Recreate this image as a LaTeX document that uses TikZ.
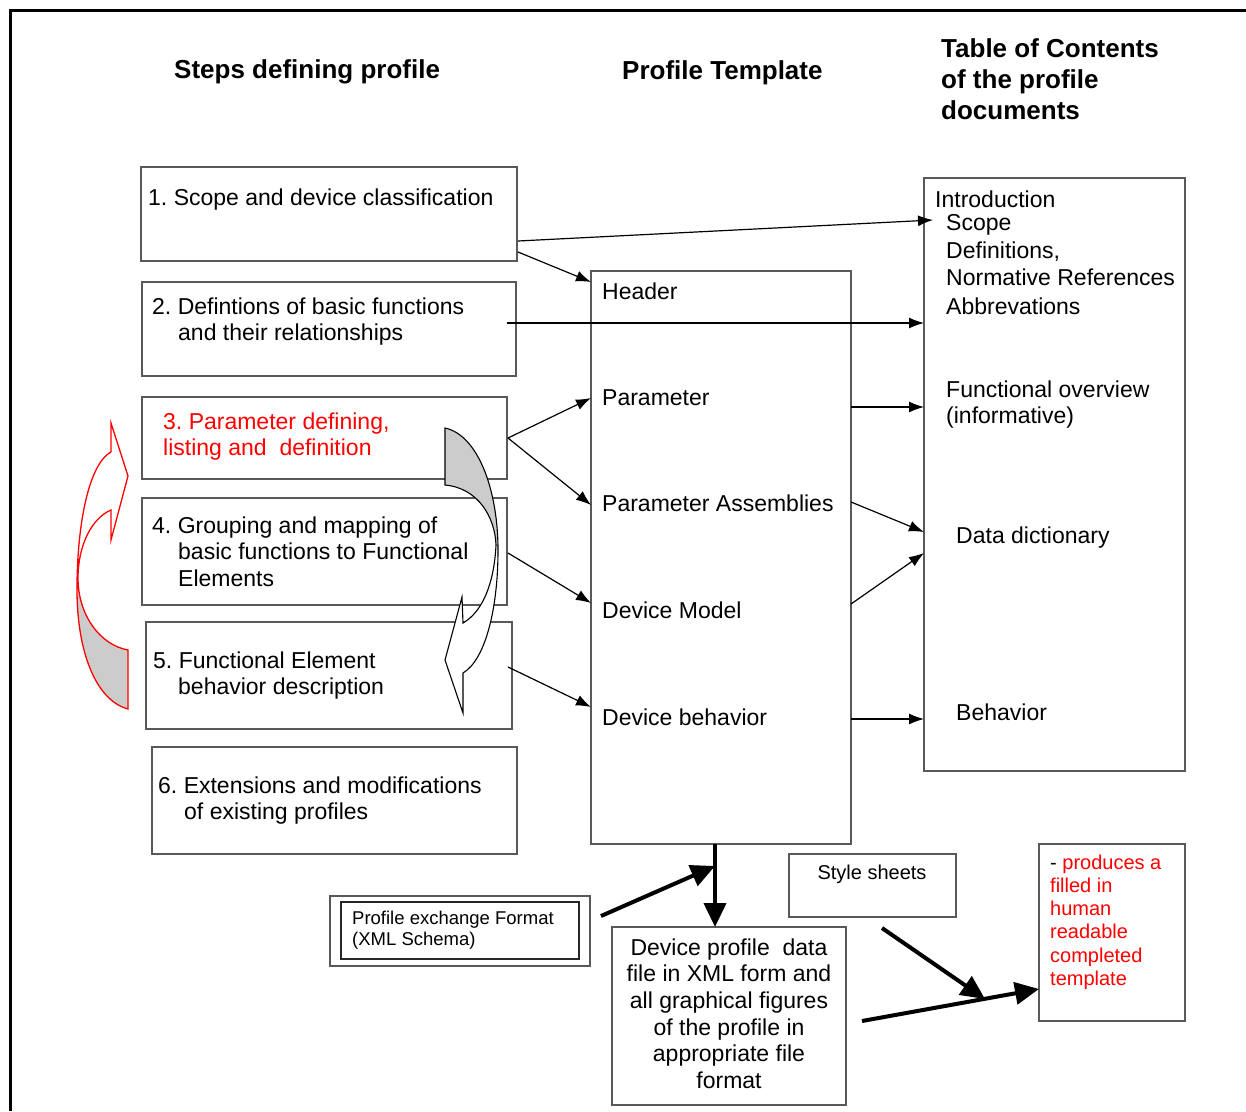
\documentclass[tikz,border=0pt]{standalone}
\usepackage{fontspec}
\setmainfont{Liberation Sans}
\usetikzlibrary{arrows.meta}
\frenchspacing
\begin{document}
\begin{tikzpicture}[x=1pt,y=-1pt,
  box/.style={draw=black!65, line width=1.3pt, anchor=north west, inner sep=0pt, outer sep=0pt},
  txt/.style={inner sep=0pt, anchor=base west, font=\fontsize{23}{27}\selectfont},
  ctxt/.style={txt, anchor=base},
  head/.style={inner sep=0pt, anchor=base west, font=\fontsize{26}{31}\selectfont\bfseries},
  small/.style={inner sep=0pt, anchor=base west, font=\fontsize{18.5}{22}\selectfont},
  mid/.style={inner sep=0pt, anchor=base west, font=\fontsize{20}{24}\selectfont},
  arr/.style={line width=1.2pt, -{Latex[length=15pt,width=11pt]}},
  bigarr/.style={line width=4pt, -{Triangle[length=24pt,width=22pt]}},
]
\useasboundingbox (0,0) rectangle (1246,1111);
% outer frame
\draw[line width=3pt] (10,1111) -- (10,10) -- (1246,10);

% column headings
\node[head] (h1) at (174,78) {Steps defining profile};
\node[head] (h2) at (622,79) {Profile Template};
\node[head] (h3a) at (941,57) {Table of Contents};
\node[head] (h3b) at (941,88) {of the profile};
\node[head] (h3c) at (941,119) {documents};

% step boxes
\node[box, minimum width=376pt, minimum height=94pt] (b1) at (141,167) {};
\node[box, minimum width=374pt, minimum height=94pt] (b2) at (142,282) {};
\node[box, minimum width=365pt, minimum height=82pt] (b3) at (142,397) {};
\node[box, minimum width=365pt, minimum height=107pt] (b4) at (142,498) {};
\node[box, minimum width=366pt, minimum height=107pt] (b5) at (146,622) {};
\node[box, minimum width=365pt, minimum height=107pt] (b6) at (152,747) {};

\node[txt] (t1) at (148,205) {1. Scope and device classification};
\node[txt] (t2a) at (152,314) {2. Defintions of basic functions};
\node[txt] (t2b) at (178,340) {and their relationships};
\node[txt, text=red] (t3a) at (163,429) {3. Parameter defining,};
\node[txt, text=red] (t3b) at (163,455) {listing and\ \ definition};
\node[txt] (t4a) at (152,533) {4. Grouping and mapping of};
\node[txt] (t4b) at (178,559) {basic functions to Functional};
\node[txt] (t4c) at (178,586) {Elements};
\node[txt] (t5a) at (153,668) {5. Functional Element};
\node[txt] (t5b) at (178,694) {behavior description};
\node[txt] (t6a) at (158,793) {6. Extensions and modifications};
\node[txt] (t6b) at (184,819) {of existing profiles};

% profile template
\node[box, minimum width=260pt, minimum height=573pt] (tmpl) at (591,271) {};
\node[txt] (p1) at (602,299) {Header};
\node[txt] (p2) at (602,405) {Parameter};
\node[txt] (p3) at (602,511) {Parameter Assemblies};
\node[txt] (p4) at (602,618) {Device Model};
\node[txt] (p5) at (602,725) {Device behavior};

% table of contents
\node[box, minimum width=261pt, minimum height=593pt] (toc) at (924,178) {};
\node[txt] (c1) at (935,207) {Introduction};
\node[txt] (c2) at (946,230) {Scope};
\node[txt] (c3) at (946,258) {Definitions,};
\node[txt] (c4) at (946,285) {Normative References};
\node[txt] (c5) at (946,314) {Abbrevations};
\node[txt] (c6) at (946,397) {Functional overview};
\node[txt] (c7) at (946,423) {(informative)};
\node[txt] (c8) at (956,543) {Data dictionary};
\node[txt] (c9) at (956,720) {Behavior};

% lower boxes
\node[box, minimum width=260pt, minimum height=70pt] (pefo) at (330,896) {};
\node[box, draw=black!85, minimum width=238pt, minimum height=57pt] (pefi) at (341,902) {};
\node[small] (pe1) at (352,924.5) {Profile exchange Format};
\node[small] (pe2) at (352,945.5) {(XML Schema)};

\node[box, minimum width=167pt, minimum height=63pt] (sty) at (789,854) {};
\node[mid, anchor=base] (styt) at (872,879) {Style sheets};

\node[box, minimum width=234pt, minimum height=178pt] (dev) at (612,927) {};
\node[ctxt] (d1) at (729,955) {Device profile\ \ data};
\node[ctxt] (d2) at (729,981) {file in XML form and};
\node[ctxt] (d3) at (729,1008) {all graphical figures};
\node[ctxt] (d4) at (729,1035) {of the profile in};
\node[ctxt] (d5) at (729,1061) {appropriate file};
\node[ctxt] (d6) at (729,1088) {format};

\node[box, minimum width=146pt, minimum height=177pt] (out) at (1039,844) {};
\node[mid] (o1) at (1050,869) {- \textcolor{red}{produces a}};
\node[mid, text=red] (o2) at (1050,892) {filled in};
\node[mid, text=red] (o3) at (1050,915) {human};
\node[mid, text=red] (o4) at (1050,938) {readable};
\node[mid, text=red] (o5) at (1050,962) {completed};
\node[mid, text=red] (o6) at (1050,985) {template};

% connector end points
\coordinate (s1a) at (518,241);
\coordinate (s1b) at (518,252);
\coordinate (s2) at (507,323);
\coordinate (s3) at (508,438);
\coordinate (s4) at (508,553);
\coordinate (s5) at (508,667);
\coordinate (e1a) at (933,220);
\coordinate (e1b) at (591,282);
\coordinate (e2) at (924,323);
\coordinate (e3a) at (591,398);
\coordinate (e3b) at (591,505);
\coordinate (e4) at (591,603);
\coordinate (e5) at (591,707);
\coordinate (q1) at (851,407);
\coordinate (q2) at (851,502);
\coordinate (q3) at (851,604);
\coordinate (q4) at (851,719);
\coordinate (r1) at (924,407);
\coordinate (r2) at (924,532);
\coordinate (r3) at (924,553);
\coordinate (r4) at (924,719);

\draw[arr] (s1a) -- (e1a);
\draw[arr] (s1b) -- (e1b);
\draw[arr] (s2) -- (e2);
\draw[arr] (s3) -- (e3a);
\draw[arr] (s3) -- (e3b);
\draw[arr] (s4) -- (e4);
\draw[arr] (s5) -- (e5);
\draw[arr] (q1) -- (r1);
\draw[arr] (q2) -- (r2);
\draw[arr] (q3) -- (r3);
\draw[arr] (q4) -- (r4);

% thick flow arrows
\coordinate (tb) at (715,844);
\coordinate (tin) at (715,866);
\coordinate (pf) at (601,916);
\coordinate (ss) at (882,928);
\coordinate (sm) at (985,999);
\coordinate (dv) at (862,1021);
\coordinate (oi) at (1039,989);
\draw[bigarr] (tb) -- (tb |- dev.north);
\draw[bigarr] (pf) -- (tin);
\draw[bigarr] (ss) -- (sm);
\draw[bigarr] (dv) -- (oi);

% red curved arrow (steps loop back)
\fill[black!20] (128,650) .. controls (100,645) and (78,615) .. (78,578)
  -- (77,590) .. controls (77,650) and (95,700) .. (128,709) -- cycle;
\draw[red, line width=1.3pt, line join=miter]
  (128,709) .. controls (95,700) and (77,650) .. (77,590)
  .. controls (77,520) and (90,463) .. (111,452)
  -- (111,423) -- (128,476) -- (111,540) -- (111,510)
  .. controls (92,518) and (78,545) .. (78,578)
  .. controls (78,615) and (100,645) .. (128,650) -- cycle;

% grey curved arrow (step 3 to step 5)
\fill[white] (445,428) .. controls (478,435) and (498,490) .. (498,550)
  .. controls (498,610) and (485,660) .. (463,673)
  -- (463,713) -- (445,660) -- (462,597) -- (463,623)
  .. controls (482,612) and (494,585) .. (496,545)
  .. controls (495,517) and (478,488) .. (445,485) -- cycle;
\fill[black!20] (445,428) .. controls (478,435) and (498,490) .. (498,550)
  -- (496,545) .. controls (495,517) and (478,488) .. (445,485) -- cycle;
\draw[line width=1.1pt, line join=miter]
  (445,428) .. controls (478,435) and (498,490) .. (498,550)
  .. controls (498,610) and (485,660) .. (463,673)
  -- (463,713) -- (445,660) -- (462,597) -- (463,623)
  .. controls (482,612) and (494,585) .. (496,545)
  .. controls (495,517) and (478,488) .. (445,485) -- cycle;
\end{tikzpicture}
\end{document}
